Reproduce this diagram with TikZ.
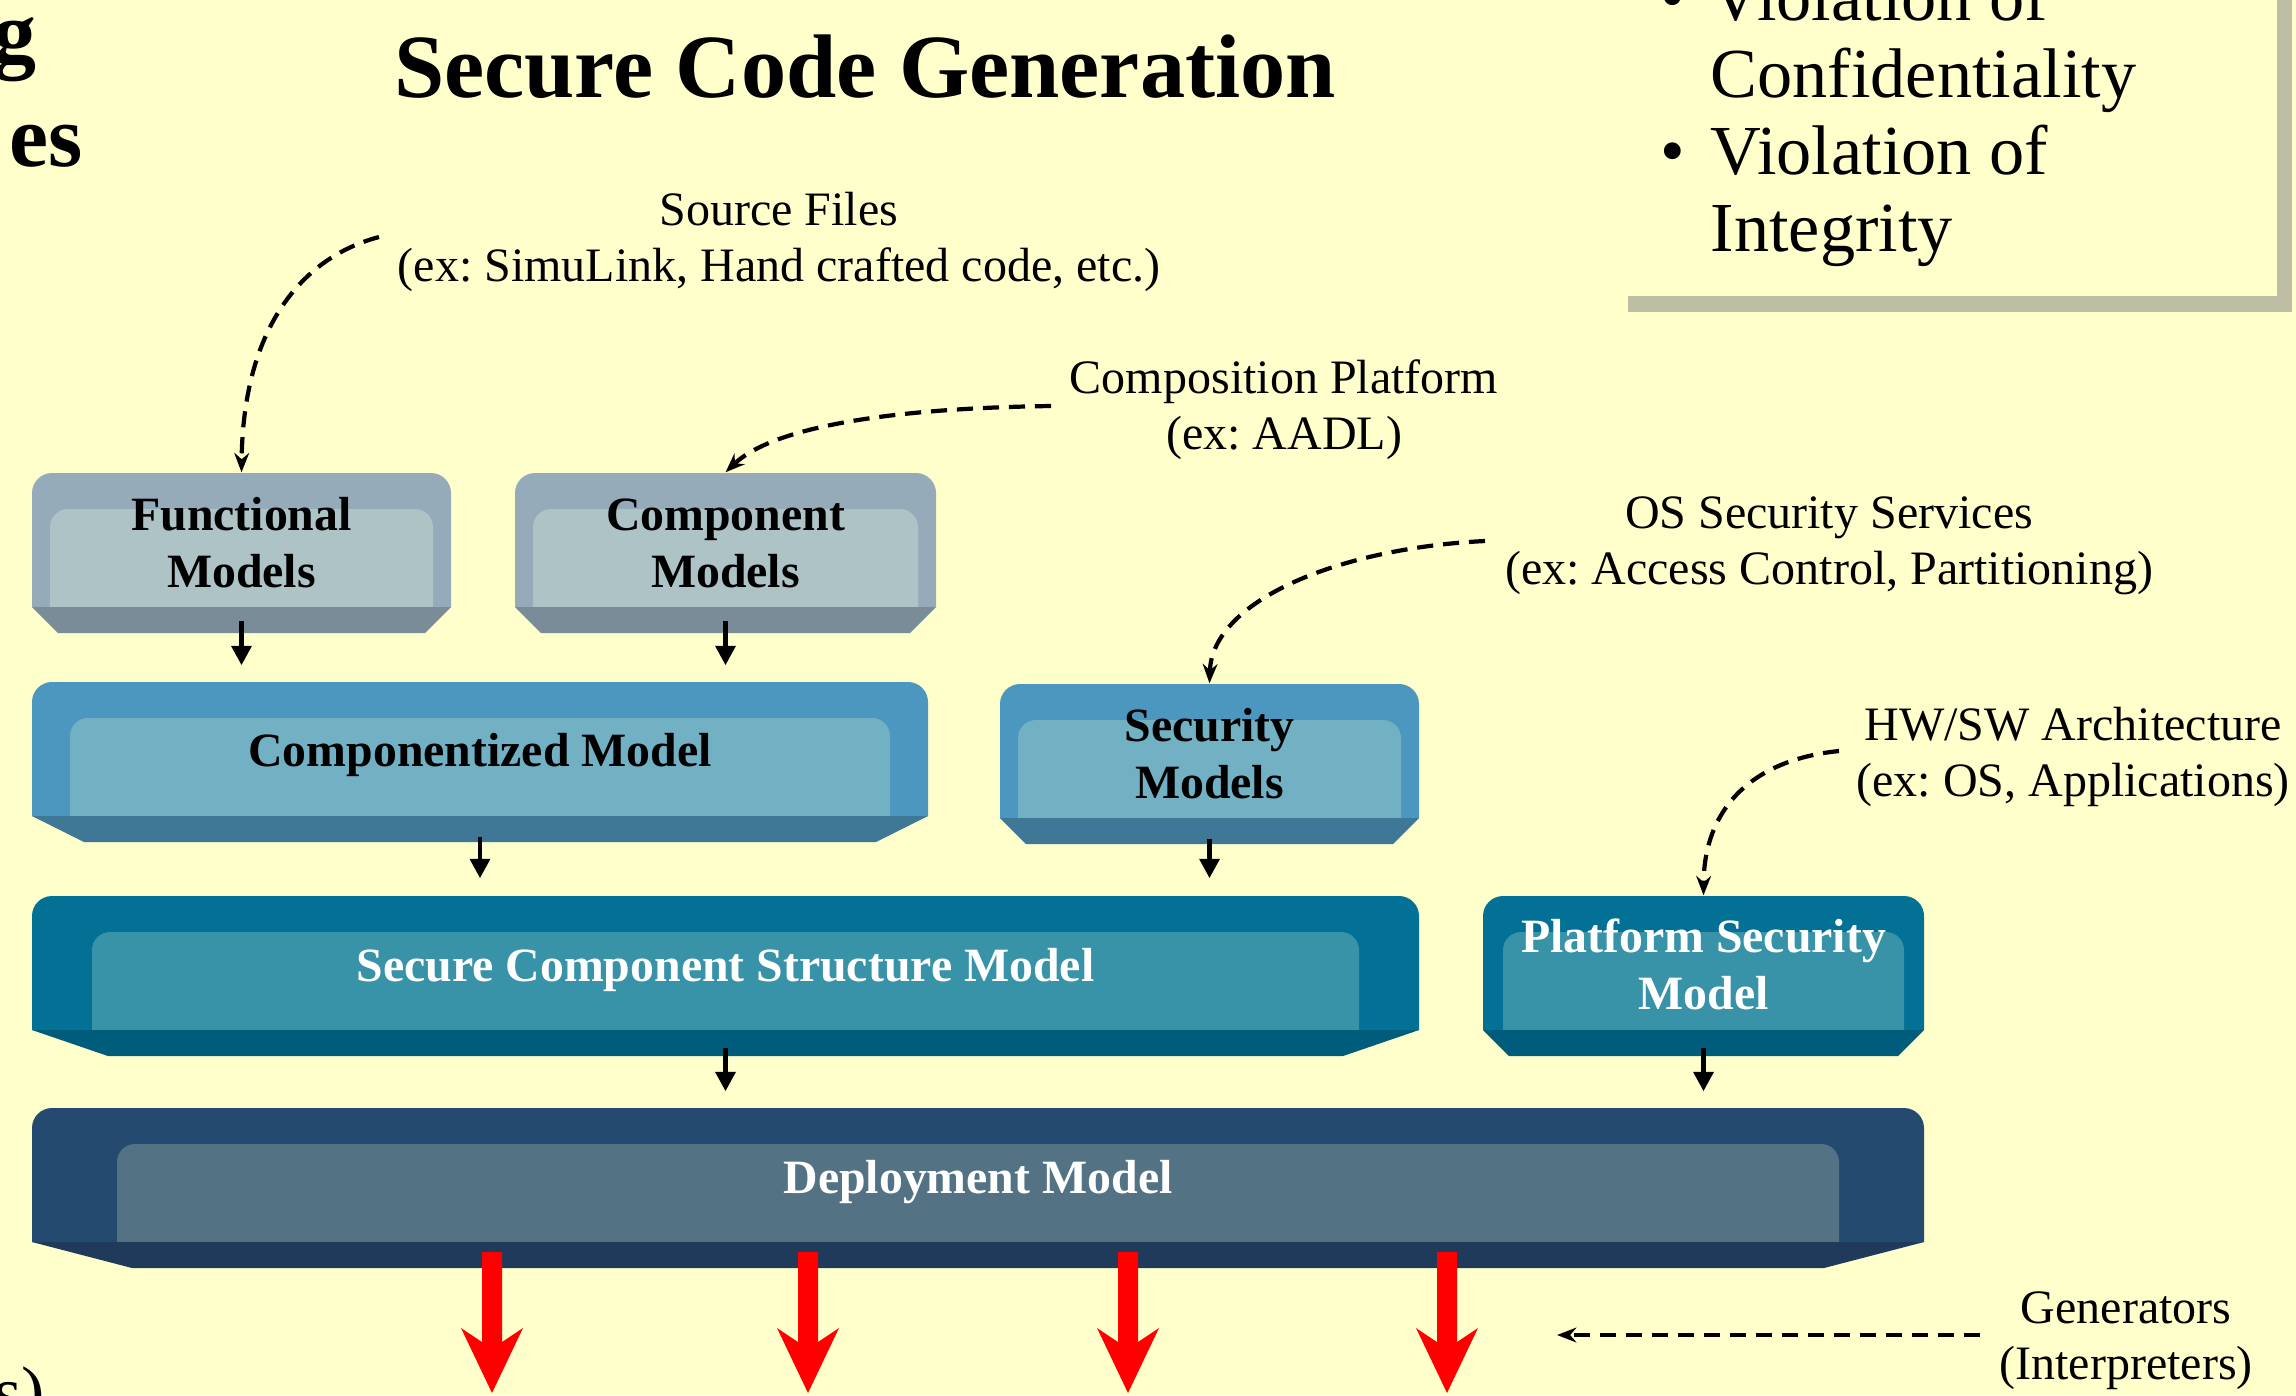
\documentclass[tikz,border=0pt]{standalone}
\usepackage{fontspec}
\setmainfont{Liberation Serif}
\usetikzlibrary{arrows.meta,calc,fit}
\frenchspacing

\definecolor{bg}{HTML}{FFFFCC}
\definecolor{shadowc}{HTML}{BEBEA5}
\definecolor{grtop}{HTML}{95ABBA}
\definecolor{grface}{HTML}{ADC3C6}
\definecolor{grbot}{HTML}{7B8C99}
\definecolor{lbtop}{HTML}{4B97BF}
\definecolor{lbface}{HTML}{72B0C4}
\definecolor{lbbot}{HTML}{3E7896}
\definecolor{tltop}{HTML}{037096}
\definecolor{tlface}{HTML}{3892A8}
\definecolor{tlbot}{HTML}{005C7B}
\definecolor{nvtop}{HTML}{244B6F}
\definecolor{nvface}{HTML}{537385}
\definecolor{nvbot}{HTML}{1F3A5A}
\definecolor{redarrow}{HTML}{FF0000}

\newcommand\twoline[2]{\begin{tabular}[t]{@{}c@{}}#1\\#2\end{tabular}}
\newcommand\bul{\makebox[5mm][l]{•}}

% #1 name, #2 x0, #3 y0, #4 x1, #5 inset, #6 chamfer, #7 colour set
\newcommand\bevbox[7]{%
  \fill[#7top] (#2,{#3+134}) -- (#2,{#3+20}) arc[start angle=180,end angle=270,radius=20]
     -- ({#4-20},#3) arc[start angle=270,end angle=360,radius=20] -- (#4,{#3+134}) -- cycle;
  \fill[#7face] ({#2+#5},{#3+134}) -- ({#2+#5},{#3+54}) arc[start angle=180,end angle=270,radius=18]
     -- ({#4-#5-18},{#3+36}) arc[start angle=270,end angle=360,radius=18] -- ({#4-#5},{#3+134}) -- cycle;
  \fill[#7bot] (#2,{#3+134}) -- (#4,{#3+134}) -- ({#4-#6},{#3+160}) -- ({#2+#6},{#3+160}) -- cycle;
  \node[fit={(#2,#3) (#4,{#3+160})}, inner sep=0pt] (#1) {};
}

\tikzset{
  ann/.style={font=\fontsize{13.66}{16.2}\selectfont, inner sep=0pt, anchor=base},
  lab/.style={font=\fontsize{13.6}{16.2}\selectfont\bfseries, inner sep=0pt, anchor=base},
  wlab/.style={lab, text=white},
  arr/.style={line width=1.35pt, -{Triangle[length=5.5pt,width=5.5pt]}},
  darr/.style={line width=1.2pt, dash pattern=on 4.6pt off 2.8pt, -{Stealth[length=5.5pt,width=4.2pt]}},
  redarr/.style={fill=redarrow},
}

\begin{document}
\begin{tikzpicture}[x=0.1mm,y=-0.1mm]
\useasboundingbox (0,0) rectangle (2296,1395);
\clip (0,0) rectangle (2296,1395);
\fill[bg] (0,0) rectangle (2296,1395);

% partial texts at the left edge
\node[inner sep=0pt, anchor=base east, font=\fontsize{25}{29}\selectfont\bfseries] (lefttop) at (37,62) {g};
\node[inner sep=0pt, anchor=base east, font=\fontsize{25}{29}\selectfont\bfseries] (leftmid) at (83,166) {es};
\node[inner sep=0pt, anchor=base east, font=\fontsize{20}{22}\selectfont] (leftbot) at (46,1415) {s)};

% title
\node[inner sep=0pt, anchor=base, font=\fontsize{25.7}{30}\selectfont\bfseries] (title) at (865,97) {Secure Code Generation};

% top-right bullet box with shadow
\fill[shadowc] (1628,-30) rectangle (2292,312);
\fill[bg] (1613,-40) rectangle (2277,296);
\node[inner sep=0pt, anchor=base west, font=\fontsize{20}{22}\selectfont] (risks) at (1660,20)
  {\begin{tabular}[t]{@{}l@{}}\bul Violation of\\\hspace*{5mm}Confidentiality\\\bul Violation of\\\hspace*{5mm}Integrity\end{tabular}};

% boxes
\bevbox{fm}{32}{473}{451}{18}{26}{gr}
\bevbox{cpm}{515}{473}{936}{18}{26}{gr}
\bevbox{czm}{32}{682}{928}{38}{52}{lb}
\bevbox{sm}{1000}{684}{1419}{18}{26}{lb}
\bevbox{scm}{32}{896}{1419}{60}{76}{tl}
\bevbox{pm}{1483}{896}{1924}{20}{26}{tl}
\bevbox{dm}{32}{1108}{1924}{85}{100}{nv}

% box labels
\node[lab] (fmt) at ($(fm.north)+(0,58)$) {\twoline{Functional}{Models}};
\node[lab] (cpmt) at ($(cpm.north)+(0,58)$) {\twoline{Component}{Models}};
\node[lab] (czmt) at ($(czm.north)+(0,85)$) {Componentized Model};
\node[lab] (smt) at ($(sm.north)+(0,58)$) {\twoline{Security}{Models}};
\node[wlab] (scmt) at ($(scm.north)+(0,86)$) {Secure Component Structure Model};
\node[wlab] (pmt) at ($(pm.north)+(0,57)$) {\twoline{Platform Security}{Model}};
\node[wlab] (dmt) at ($(dm.north)+(0,86)$) {Deployment Model};

% annotations
\node[ann] (src) at (779,225) {\twoline{Source Files}{(ex: SimuLink, Hand crafted code, etc.)}};
\node[ann] (cmp) at (1284,393) {\twoline{Composition Platform}{(ex: AADL)}};
\node[ann] (oss) at (1829,528) {\twoline{OS Security Services}{(ex: Access Control, Partitioning)}};
\node[ann] (hws) at (2073,740) {\twoline{HW/SW Architecture}{(ex: OS, Applications)}};
\node[ann] (gen) at (2126,1323) {\twoline{Generators}{(Interpreters)}};

% solid flow arrows
\draw[arr] ($(fm.south)+(0,-13)$) -- ($(fm.south |- czm.north)+(0,-16)$);
\draw[arr] ($(cpm.south)+(0,-13)$) -- ($(cpm.south |- czm.north)+(0,-16)$);
\draw[arr] ($(czm.south)+(0,-6)$) -- ($(czm.south |- scm.north)+(0,-17)$);
\draw[arr] ($(sm.south)+(0,-6)$) -- ($(sm.south |- scm.north)+(0,-17)$);
\draw[arr] ($(scm.south)+(0,-9)$) -- ($(scm.south |- dm.north)+(0,-16)$);
\draw[arr] ($(pm.south)+(0,-9)$) -- ($(pm.south |- dm.north)+(0,-16)$);

% dashed annotation arrows
\coordinate (srcS) at (379,237);
\coordinate (cmpS) at (1051,406);
\coordinate (ossS) at (1485,541);
\coordinate (hwsS) at (1839,751);
\coordinate (genS) at (1980,1335);
\coordinate (genE) at (1557,1335);
\draw[darr] (srcS) .. controls (300,258) and (243,330) .. (fm.north);
\draw[darr] (cmpS) .. controls (900,408) and (775,425) .. (cpm.north);
\draw[darr] (ossS) .. controls (1340,548) and (1212,600) .. (sm.north);
\draw[darr] (hwsS) .. controls (1750,760) and (1704,810) .. (pm.north);
\draw[darr] (genS) -- (genE);

% red generator arrows
\foreach \x in {492,808,1128,1447} {
  \fill[redarr] ({\x-10},1252) -- ({\x+10},1252) -- ({\x+10},1342) -- ({\x+31},1328)
     -- (\x,1393) -- ({\x-31},1328) -- ({\x-10},1342) -- cycle;
}
\end{tikzpicture}
\end{document}
